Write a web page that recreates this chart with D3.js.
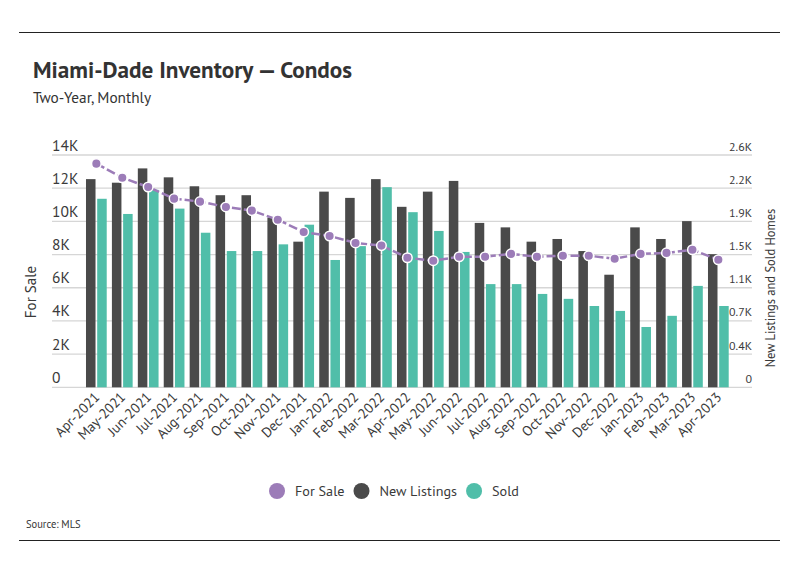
<!DOCTYPE html>
<html>
<head>
<meta charset="utf-8">
<script src="https://cdn.jsdelivr.net/npm/d3@7"></script>
<style>
  html, body { margin: 0; padding: 0; background: #fff; }
  svg { display: block; font-family: "PT Sans", Lato, "Open Sans", sans-serif; }
</style>
</head>
<body>
<svg id="chart" width="798" height="575"></svg>
<script>
const months = ["Apr-2021","May-2021","Jun-2021","Jul-2021","Aug-2021","Sep-2021","Oct-2021","Nov-2021","Dec-2021",
  "Jan-2022","Feb-2022","Mar-2022","Apr-2022","May-2022","Jun-2022","Jul-2022","Aug-2022","Sep-2022","Oct-2022",
  "Nov-2022","Dec-2022","Jan-2023","Feb-2023","Mar-2023","Apr-2023"];
const forSale = [13480,12630,12070,11370,11190,10870,10650,10100,9360,9120,8700,8540,7810,7630,7870,7870,8040,7870,7930,7930,7750,8040,8100,8290,7690];
const newListings = [2330,2290,2450,2350,2250,2150,2150,1900,1630,2190,2120,2330,2020,2190,2310,1840,1790,1630,1660,1525,1260,1790,1660,1860,1490];
const sold = [2110,1940,2210,2000,1730,1525,1525,1600,1820,1425,1580,2240,1960,1750,1515,1155,1155,1045,990,910,855,675,800,1135,910];
const leftTicks = [0,2000,4000,6000,8000,10000,12000,14000];
const rightMax = 2600;
const rightTicks = d3.range(0, 8).map(i => i * rightMax / 7);
const seriesNames = ["For Sale","New Listings","Sold"];
const colors = {"For Sale":"#9c7cb8","New Listings":"#4a4a4a","Sold":"#50bea9"};

const svg = d3.select("#chart");
const textColor = "#3a3a3a";

// rules
svg.append("line").attr("x1",19).attr("x2",780).attr("y1",32.5).attr("y2",32.5).attr("stroke","#222").attr("stroke-width",1.2);
svg.append("line").attr("x1",19).attr("x2",780).attr("y1",540.5).attr("y2",540.5).attr("stroke","#222").attr("stroke-width",1.2);

// titles
svg.append("text").attr("x",33).attr("y",78).attr("font-size",23.2).attr("font-weight","bold").attr("fill","#333")
  .text("Miami-Dade Inventory — Condos");
svg.append("text").attr("x",33).attr("y",103).attr("font-size",15.3).attr("fill","#333").text("Two-Year, Monthly");
svg.append("text").attr("x",26).attr("y",528).attr("font-size",10.5).attr("fill","#333").text("Source: MLS");

const y0 = 387.3, y1 = 155;
const yL = d3.scaleLinear().domain([0,14000]).range([y0,y1]);
const yR = d3.scaleLinear().domain([0,rightMax]).range([y0,y1]);
const x = d3.scaleBand().domain(months).range([83.4,731.3]).paddingInner(0.2).paddingOuter(0.1);
const xs = d3.scaleBand().domain(["New Listings","Sold"]).range([0,x.bandwidth()]).paddingInner(0.15);

// grid
const gx0 = 52, gx1 = 752;
svg.append("g").selectAll("line").data(leftTicks).join("line")
  .attr("x1",gx0).attr("x2",gx1).attr("y1",d=>yL(d)).attr("y2",d=>yL(d))
  .attr("stroke","#d6d6d6").attr("stroke-width",1.3);

// left axis labels
const fmtL = d => d === 0 ? "0" : (d/1000) + "K";
svg.append("g").selectAll("text").data(leftTicks).join("text")
  .attr("x",gx0).attr("y",d=>yL(d)-4.5).attr("font-size",15.5).attr("fill",textColor).text(fmtL);
// right axis labels
const fmtR = d => d === 0 ? "0" : (d/1000).toFixed(1) + "K";
svg.append("g").selectAll("text").data(rightTicks).join("text")
  .attr("x",gx1).attr("y",d=>yR(d)-4.5).attr("text-anchor","end").attr("font-size",12).attr("fill",textColor).text(fmtR);

svg.append("text").attr("transform","translate(36,292) rotate(-90)").attr("text-anchor","middle")
  .attr("font-size",15).attr("fill",textColor).text("For Sale");
svg.append("text").attr("transform","translate(775,288) rotate(-90)").attr("text-anchor","middle")
  .attr("font-size",12.5).attr("fill",textColor).text("New Listings and Sold Homes");

// bars
const bars = svg.append("g");
months.forEach((m,i) => {
  bars.append("rect").attr("x",x(m)+xs("New Listings")).attr("width",xs.bandwidth())
    .attr("y",yR(newListings[i])).attr("height",y0-yR(newListings[i])).attr("fill",colors["New Listings"]);
  bars.append("rect").attr("x",x(m)+xs("Sold")).attr("width",xs.bandwidth())
    .attr("y",yR(sold[i])).attr("height",y0-yR(sold[i])).attr("fill",colors["Sold"]);
});

// line
const cx = m => x(m) + x.bandwidth()/2;
const line = d3.line().x((d,i)=>cx(months[i])).y(d=>yL(d));
svg.append("path").datum(forSale).attr("d",line).attr("fill","none")
  .attr("stroke",colors["For Sale"]).attr("stroke-width",2.5).attr("stroke-dasharray","9,3");
svg.append("g").selectAll("circle").data(forSale).join("circle")
  .attr("cx",(d,i)=>cx(months[i])).attr("cy",d=>yL(d)).attr("r",4.8)
  .attr("fill",colors["For Sale"]).attr("stroke","#fff").attr("stroke-width",1.5);

// x labels
svg.append("g").selectAll("text").data(months).join("text")
  .attr("transform",m=>`translate(${cx(m)+4},${398}) rotate(-45)`)
  .attr("text-anchor","end").attr("font-size",14).attr("fill",textColor).text(m=>m);

// legend (centred)
const lg = svg.append("g");
let lx = 0;
seriesNames.forEach(s => {
  lg.append("circle").attr("cx",lx).attr("cy",491).attr("r",8).attr("fill",colors[s]);
  const t = lg.append("text").attr("x",lx+18).attr("y",496).attr("font-size",14.2).attr("fill",textColor).text(s);
  lx += 18 + t.node().getComputedTextLength() + 17;
});
const lw = lx - 17 + 8;
lg.attr("transform",`translate(${394 - lw/2 + 8},0)`);
</script>
</body>
</html>
